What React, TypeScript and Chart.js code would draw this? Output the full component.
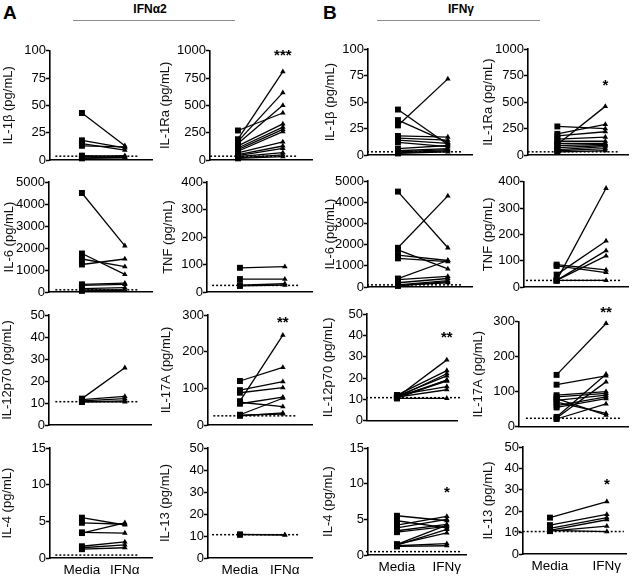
import React, { useEffect, useRef } from 'react';
import { Chart, registerables } from 'chart.js';
Chart.register(...registerables);

const FONT = '"Liberation Sans", Arial, Helvetica, sans-serif';

// ---------- labels ----------
const xLabelsA = ['Media', 'IFNα'];
const xLabelsB = ['Media', 'IFNγ'];

// ---------- A: IFNα2 ----------
const il1bA_media = [43, 18, 15, 13, 4, 3, 2, 1.5];
const il1bA_ifn = [13, 11, 9, 12, 3, 4, 2.5, 2];

const il1raA_media = [270, 190, 170, 150, 130, 110, 95, 80, 65, 50, 40, 30, 20, 15];
const il1raA_ifn = [430, 808, 616, 500, 330, 300, 280, 260, 165, 128, 107, 67, 46, 30];

const il6A_media = [4500, 1750, 1500, 1250, 350, 300, 150, 100, 50];
const il6A_ifn = [2100, 800, 1150, 1500, 400, 350, 200, 100, 80];

const tnfA_media = [88, 47, 25, 22];
const tnfA_ifn = [92, 47, 30, 25];

const il12A_media = [12, 11.5, 11, 10.5, 10.5];
const il12A_ifn = [26, 13, 12, 11, 10.5];

const il17A_media = [65, 120, 95, 88, 58, 62, 28, 25, 27];
const il17A_ifn = [245, 157, 118, 102, 76, 50, 73, 33, 30];

const il4A_media = [5.5, 4.8, 3.4, 3.5, 1.6, 1.4, 1.2];
const il4A_ifn = [4.5, 4.6, 4.8, 3.4, 2.2, 1.8, 1.4];

const il13A_media = [10.7, 10.6];
const il13A_ifn = [10.5, 10.5];

// ---------- B: IFNγ ----------
const il1bB_media = [28, 43, 33, 18, 16, 14, 12, 6, 4, 3, 2, 1.5];
const il1bB_ifn = [72, 10, 12, 17, 14, 11, 8, 9, 6, 5, 4, 3];

const il1raB_media = [100, 270, 200, 180, 150, 130, 110, 90, 70, 50, 40, 30];
const il1raB_ifn = [460, 250, 290, 220, 170, 130, 110, 100, 90, 80, 60, 40];

const il6B_media = [4500, 1850, 1750, 1500, 1350, 400, 350, 200, 100, 50, 80];
const il6B_ifn = [1850, 4300, 850, 1250, 1200, 1250, 500, 400, 300, 250, 200];

const tnfB_media = [25, 47, 25, 80, 85, 25, 25];
const tnfB_ifn = [375, 175, 138, 55, 65, 118, 25];

const il12B_media = [11, 12, 11, 11.5, 10.5, 11, 12, 11, 10.5, 11];
const il12B_ifn = [28.5, 23.5, 22, 21, 19, 18.5, 16, 14.5, 10.5, 19];

const il17B_media = [148, 120, 90, 85, 80, 75, 70, 60, 55, 28, 25, 22];
const il17B_ifn = [295, 145, 100, 95, 33, 90, 38, 85, 80, 150, 128, 65];

const il4B_media = [5.5, 4.8, 4.2, 3.8, 3.4, 3.2, 1.5, 1.4, 1.3, 1.2, 1.5];
const il4B_ifn = [4.8, 3.8, 5.4, 5.0, 4.3, 4.0, 3.1, 3.6, 1.6, 1.3, 4.2];

const il13B_media = [17, 13.5, 12, 11, 10.7, 11];
const il13B_ifn = [24.5, 18.5, 17, 16, 13, 10.5];

// ---------- lower limits of quantification ----------
const lloqA = [3.5, 35, 100, 24, 10.6, 25, 0.4, 10.6];
const lloqB = [3, 30, 100, 25, 10.8, 24, 0.47, 10.5];

type Geo = { titleX: number; axisX: number; right: number; mediaX: number; ifnX: number; top: number; bottom: number };
type PanelCfg = {
  title: string; yMax: number; yStep: number; media: number[]; ifn: number[]; lloq: number;
  star?: string; starY?: number; xLabels?: string[]; geo: Geo; padTop?: number;
};

const panels: PanelCfg[] = [
  // row 1
  { title: 'IL-1β (pg/mL)', yMax: 100, yStep: 25, media: il1bA_media, ifn: il1bA_ifn, lloq: lloqA[0],
    geo: { titleX: 9, axisX: 50, right: 153, mediaX: 82, ifnX: 125, top: 50.7, bottom: 160 } },
  { title: 'IL-1Ra (pg/mL)', yMax: 1000, yStep: 250, media: il1raA_media, ifn: il1raA_ifn, lloq: lloqA[1], star: '***', starY: 995,
    geo: { titleX: 166, axisX: 210, right: 313, mediaX: 238, ifnX: 283, top: 50.7, bottom: 160 } },
  { title: 'IL-1β (pg/mL)', yMax: 100, yStep: 25, media: il1bB_media, ifn: il1bB_ifn, lloq: lloqB[0],
    geo: { titleX: 331, axisX: 368, right: 473, mediaX: 398, ifnX: 448, top: 49.3, bottom: 155 } },
  { title: 'IL-1Ra (pg/mL)', yMax: 1000, yStep: 250, media: il1raB_media, ifn: il1raB_ifn, lloq: lloqB[1], star: '*', starY: 693,
    geo: { titleX: 489, axisX: 528, right: 631, mediaX: 558, ifnX: 607, top: 49.3, bottom: 155 } },
  // row 2
  { title: 'IL-6 (pg/mL)', yMax: 5000, yStep: 1000, media: il6A_media, ifn: il6A_ifn, lloq: lloqA[2],
    geo: { titleX: 10, axisX: 49, right: 153, mediaX: 82, ifnX: 125, top: 182, bottom: 292 } },
  { title: 'TNF (pg/mL)', yMax: 400, yStep: 100, media: tnfA_media, ifn: tnfA_ifn, lloq: lloqA[3],
    geo: { titleX: 169, axisX: 207, right: 313, mediaX: 240, ifnX: 285, top: 182, bottom: 292 } },
  { title: 'IL-6 (pg/mL)', yMax: 5000, yStep: 1000, media: il6B_media, ifn: il6B_ifn, lloq: lloqB[2],
    geo: { titleX: 331, axisX: 368, right: 473, mediaX: 398, ifnX: 448, top: 181, bottom: 287 } },
  { title: 'TNF (pg/mL)', yMax: 400, yStep: 100, media: tnfB_media, ifn: tnfB_ifn, lloq: lloqB[3],
    geo: { titleX: 489, axisX: 524, right: 630, mediaX: 557, ifnX: 607, top: 181.7, bottom: 287 } },
  // row 3
  { title: 'IL-12p70 (pg/mL)', yMax: 50, yStep: 10, media: il12A_media, ifn: il12A_ifn, lloq: lloqA[4],
    geo: { titleX: 8, axisX: 49, right: 152, mediaX: 82, ifnX: 125, top: 315, bottom: 425 } },
  { title: 'IL-17A (pg/mL)', yMax: 300, yStep: 100, media: il17A_media, ifn: il17A_ifn, lloq: lloqA[5], star: '**', starY: 292,
    geo: { titleX: 167, axisX: 208, right: 313, mediaX: 240, ifnX: 283, top: 315, bottom: 425 } },
  { title: 'IL-12p70 (pg/mL)', yMax: 50, yStep: 10, media: il12B_media, ifn: il12B_ifn, lloq: lloqB[4], star: '**', starY: 41,
    geo: { titleX: 329, axisX: 367, right: 458, mediaX: 397, ifnX: 447, top: 314, bottom: 420.7 } },
  { title: 'IL-17A (pg/mL)', yMax: 300, yStep: 100, media: il17B_media, ifn: il17B_ifn, lloq: lloqB[5], star: '**', starY: 339, padTop: 28,
    geo: { titleX: 479, axisX: 519, right: 630, mediaX: 557, ifnX: 607, top: 321.7, bottom: 426.7 } },
  // row 4
  { title: 'IL-4 (pg/mL)', yMax: 15, yStep: 5, media: il4A_media, ifn: il4A_ifn, lloq: lloqA[6], xLabels: xLabelsA,
    geo: { titleX: 8, axisX: 50, right: 153, mediaX: 82, ifnX: 125, top: 448, bottom: 558 } },
  { title: 'IL-13 (pg/mL)', yMax: 50, yStep: 10, media: il13A_media, ifn: il13A_ifn, lloq: lloqA[7], xLabels: xLabelsA,
    geo: { titleX: 166, axisX: 208, right: 313, mediaX: 240, ifnX: 285, top: 448, bottom: 558 } },
  { title: 'IL-4 (pg/mL)', yMax: 15, yStep: 5, media: il4B_media, ifn: il4B_ifn, lloq: lloqB[6], xLabels: xLabelsB, star: '*', starY: 9.4,
    geo: { titleX: 329, axisX: 368, right: 467, mediaX: 397, ifnX: 447, top: 448, bottom: 555 } },
  { title: 'IL-13 (pg/mL)', yMax: 50, yStep: 10, media: il13B_media, ifn: il13B_ifn, lloq: lloqB[7], xLabels: xLabelsB, star: '*', starY: 34.6,
    geo: { titleX: 489, axisX: 523, right: 627, mediaX: 550, ifnX: 607, top: 447, bottom: 554 } },
];

const starPlugin = {
  id: 'stars',
  afterDatasetsDraw(chart: any, _args: any, opts: any) {
    if (!opts || !opts.text) return;
    const { ctx } = chart;
    const xs = chart.scales.x;
    const ys = chart.scales.y;
    ctx.save();
    ctx.font = `bold 15px ${FONT}`;
    ctx.fillStyle = '#000';
    ctx.textAlign = 'center';
    ctx.textBaseline = 'alphabetic';
    ctx.fillText(opts.text, xs.getPixelForValue(1), ys.getPixelForValue(opts.y) + 8.6);
    ctx.restore();
  },
};

function Panel({ cfg }: { cfg: PanelCfg }) {
  const ref = useRef<HTMLCanvasElement>(null);
  const g = cfg.geo;
  const left = Math.round(g.titleX - 7.8);
  const padTop = cfg.padTop ?? 14;
  const top = Math.round(g.top - padTop);
  const canvasRight = Math.min(633, Math.ceil(g.right + 4));
  const bottomRow = !!cfg.xLabels;
  const canvasBottom = bottomRow ? 577 : Math.ceil(g.bottom + 6);
  const W = canvasRight - left;
  const H = canvasBottom - top;

  useEffect(() => {
    const u = g.ifnX - g.mediaX;
    const xmin = -(g.mediaX - g.axisX) / u;
    const xmax = (g.right - g.mediaX) / u;
    const yW = g.axisX - left;
    const padT = g.top - top;
    const padR = canvasRight - g.right;
    const xH = bottomRow ? canvasBottom - g.bottom - 1 : 0;
    const padB = bottomRow ? 1 : canvasBottom - g.bottom;
    const labels = cfg.xLabels || [];

    const datasets: any[] = [
      {
        data: [{ x: -0.62, y: cfg.lloq }, { x: 1.3, y: cfg.lloq }],
        borderColor: '#000', borderWidth: 1.5, borderDash: [2, 2],
        pointRadius: 0, clip: false, order: 2,
      },
    ];
    cfg.media.forEach((m, i) => {
      datasets.push({
        data: [{ x: 0, y: m }, { x: 1, y: cfg.ifn[i] }],
        borderColor: '#000', borderWidth: 1.3,
        pointStyle: (c: any) => (c.dataIndex === 0 ? 'rect' : 'triangle'),
        pointRadius: (c: any) => (c.dataIndex === 0 ? 4.2 : 3.2),
        pointBackgroundColor: '#000', pointBorderColor: '#000', pointBorderWidth: 0,
        clip: false, order: 1,
      });
    });

    const chart = new Chart(ref.current as HTMLCanvasElement, {
      type: 'line',
      data: { datasets },
      plugins: [starPlugin as any],
      options: {
        responsive: false,
        animation: false,
        events: [],
        devicePixelRatio: 1,
        layout: { padding: { left: 0, right: padR, top: padT, bottom: padB } },
        elements: { line: { tension: 0 } },
        plugins: {
          legend: { display: false },
          tooltip: { enabled: false },
          stars: { text: cfg.star, y: cfg.starY },
        } as any,
        scales: {
          x: {
            type: 'linear', min: xmin, max: xmax,
            grid: { display: false, drawTicks: false },
            border: { display: true, color: '#000', width: 1.6 },
            ticks: {
              display: bottomRow, color: '#000', font: { size: 13.5, family: FONT }, padding: 4,
              autoSkip: false, maxRotation: 0,
              callback: (v: any) => (labels[v] !== undefined ? labels[v] : ''),
            },
            afterBuildTicks: (s: any) => { s.ticks = [{ value: 0 }, { value: 1 }]; },
            afterFit: (s: any) => { s.height = xH; s.paddingLeft = 0; s.paddingRight = 0; },
          },
          y: {
            type: 'linear', min: 0, max: cfg.yMax,
            ticks: { stepSize: cfg.yStep, color: '#000', font: { size: 13, family: FONT }, padding: 0, callback: (v: any) => String(v) },
            grid: { display: true, drawOnChartArea: false, drawTicks: true, tickLength: 4, tickColor: '#000', tickWidth: 1.5 },
            border: { display: true, color: '#000', width: 1.6 },
            title: { display: true, text: cfg.title, color: '#111', font: { size: 13, family: FONT, lineHeight: 1.2 }, padding: 0 },
            afterFit: (s: any) => { s.width = yW; s.paddingTop = 0; s.paddingBottom = 0; },
          },
        } as any,
      },
    });
    return () => chart.destroy();
  }, []);

  return (
    <canvas
      ref={ref}
      width={W}
      height={H}
      style={{ position: 'absolute', left, top, width: W, height: H }}
    />
  );
}

export default function App() {
  return (
    <div style={{ position: 'absolute', left: 0, top: 0, width: 633, height: 577, background: '#fff', overflow: 'hidden', fontFamily: FONT, color: '#000' }}>
      <div style={{ position: 'absolute', left: 3, top: 2.5, fontSize: 19, fontWeight: 'bold', lineHeight: 1 }}>A</div>
      <div style={{ position: 'absolute', left: 100, width: 100, top: 3.4, textAlign: 'center', fontSize: 12, fontWeight: 'bold', lineHeight: 1 }}>IFNα2</div>
      <div style={{ position: 'absolute', left: 73, top: 20, width: 162, height: 1.3, background: '#8c8c8c' }} />
      <div style={{ position: 'absolute', left: 323, top: 2.5, fontSize: 19, fontWeight: 'bold', lineHeight: 1 }}>B</div>
      <div style={{ position: 'absolute', left: 411, width: 100, top: 3.4, textAlign: 'center', fontSize: 12, fontWeight: 'bold', lineHeight: 1 }}>IFNγ</div>
      <div style={{ position: 'absolute', left: 377, top: 20, width: 163, height: 1.3, background: '#8c8c8c' }} />
      {panels.map((p, i) => <Panel key={i} cfg={p} />)}
    </div>
  );
}
